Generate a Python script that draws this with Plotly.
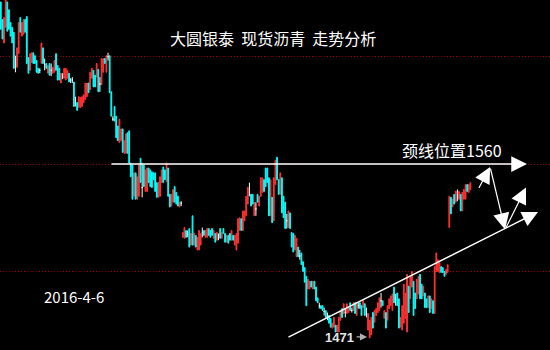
import plotly.graph_objects as go

# ---------------- data (price units) ----------------
# segment 1: early decline
open_ = [
    1643,1634,1622,1630,1643,1639,1632.5,1630,1627.5,1611,1609.5,1616.5,1635,1625.5,1626.5,1634,1635.5,1614.5,1608,1612,
    1617,1615.5,1613,1609,1608,1611.5,1619.5,1611,1611.5,1606.5,1611.5,1608,1606.5,1607,1616.5,1610.5,1609,1601.5,1605,1604,
    1603,1604,1606.5,1603,1603,1602,1592,1591.5,1589,1589,1589.5,1591.5,1593,1594.5,1601.5,1598,1604,1608,1605.5,1604.5,
    1608.5,1601,1600.5,1607,1614,1607,1615,1615.5,1597,
    # segment 2
    1583,1589.5,1584.5,1579.5,1571,1572,1578,1565.5,1565.5,1576,1577,1560.5,1559.5,1543.5,1555.5,1542,1543.5,1563,1548,1559.5,
    1546,1546,1558,1557,1556,1555.5,1555.5,1550.5,1543,1543.5,1550.5,1558.5,1557,1551,1558,1544.5,1538.5,1540.5,1548.5,1545.5,
    1543.5,1538,1540,
    # segment 3
    1522.5,1522,1526,1524,1527,1518.5,1533.5,1518.5,1523.5,1516,1516,1518.5,1525,1526,1522.5,1522.5,1527,1526,1527,1522,
    1524.5,1521,1523,1527,1522,1527,1524.5,1520,1523.5,1524.5,1521,1523.5,1518.5,1516,1519.5,1526,1532,1526,1531,1533.5,
    1539.5,1547,1544.5,1544.5,1533.5,1537,1544.5,1538.5,1543.5,1545.5,1552,1558,1558,1553,1533.5,1543,1531,1549.5,1563.5,1552,
    1544.5,1553,1543.5,1540.5,1531,1527.5,1535,1525,1524.5,1516,1512.5,1517.5,1513,1514.5,1510,1507,1502.5,1496,1496,1500,
    1496,1500,1497,1491.5,1487.5,1487.5,1487.5,1484.5,1485,1482,1482.5,1481,1476,1476.5,1477.5,1474,1474,1480,1486,1483.5,
    1484,1483.5,1484,1489,1485,1485,1489,1482.5,1487.5,1489,1487.5,1486.5,
    # segment 4
    1488.5,1484,1475,1471,1472.5,1484,1479,1482.5,1484,1485,1490,1490,1481,1484,1480,1486,1487.5,1485,1497,1490.5,
    1494,1491,1476.5,1475,1478.5,1481,1474,1497.5,1491,1497,1500,1494,1491,1493.5,1503.5,1498.5,1492.5,1494,1491,1486.5,
    1492.5,1486,1490,1483.5,1505,1505,1504.5,1507.5,1507,1505,1503.5,1504.5,
    # segment 5 (gap up)
    1527.5,1543,1538,1544.5,1540.5,1544,1542,1544.5,1536,1542,1542,1549.5,1545.5,1547,
]
high = [
    1643,1634,1635,1644,1643,1639,1632.5,1630,1627.5,1615.5,1619.5,1632.5,1635,1632.5,1634,1634,1635.5,1614.5,1616.5,1617,
    1617,1615.5,1613,1609,1609,1622,1619.5,1614,1611.5,1610.5,1611.5,1611.5,1609.5,1613,1616.5,1610.5,1609,1606.5,1606.5,1609,
    1609,1608,1606.5,1604,1604.5,1602,1594.5,1591.5,1594.5,1594,1594.5,1595.5,1601.5,1601.5,1601.5,1607,1609,1608,1605.5,1611.5,
    1608.5,1604.5,1614,1614,1614,1615.5,1617,1615.5,1597,
    1584.5,1589.5,1584.5,1579.5,1583,1578,1578,1572,1575.5,1576,1577,1560.5,1559.5,1555.5,1555.5,1553.5,1559.5,1563,1560.5,1559.5,
    1557,1558,1558,1557,1556,1555.5,1555.5,1550.5,1550.5,1553.5,1557,1558.5,1557,1560.5,1558,1544.5,1544.5,1547,1548.5,1545.5,
    1543.5,1540.5,1541,
    1525,1527.5,1526,1526,1527,1524.5,1533.5,1524.5,1523.5,1522.5,1526,1524.5,1527.5,1526,1526,1527,1527,1526,1527,1526,
    1524.5,1525,1524.5,1527,1525,1527,1524.5,1523.5,1523.5,1524.5,1526,1523.5,1523.5,1524.5,1532,1532.5,1532,1536,1536,1543.5,
    1548,1550.5,1544.5,1544.5,1540.5,1540.5,1544.5,1543.5,1553,1553,1552,1558,1558,1553,1552,1543,1553,1562,1563.5,1552,
    1555.5,1553,1543.5,1540.5,1534.5,1536,1535,1525,1524.5,1523.5,1522,1517.5,1516,1514.5,1510,1507,1502.5,1501,1500,1500,
    1500,1500,1497,1491.5,1489,1487.5,1487.5,1486.5,1485,1484,1482.5,1481,1478.5,1481.5,1477.5,1477.5,1481.5,1485,1486,1488.5,
    1486,1488.5,1486.5,1489,1486.5,1489,1489,1488.5,1489,1489,1487.5,1490,
    1488.5,1486.5,1483.5,1480,1481.5,1484,1485,1486,1489,1491.5,1494,1490,1485,1484,1487.5,1491,1492.5,1493.5,1497,1493.5,
    1494,1491,1481.5,1487.5,1498.5,1494,1503.5,1497.5,1502,1505,1500,1494,1501,1502.5,1503.5,1498.5,1497.5,1494,1491,1492.5,
    1492.5,1491,1490,1507.5,1514.5,1511,1509.5,1507.5,1507,1505,1506,1508.5,
    1543.5,1543,1542,1544.5,1546,1547,1546,1544.5,1545.5,1547,1549.5,1549.5,1549.5,1550.5,
]
low = [
    1629,1624,1622,1630,1628,1629,1625.5,1622,1609,1607,1609.5,1616.5,1627.5,1625.5,1626.5,1627.5,1611.5,1606.5,1608,1612,
    1611.5,1611.5,1607,1606.5,1606.5,1611.5,1611.5,1608,1609,1606.5,1605.5,1605,1606.5,1607,1608,1603,1603,1601.5,1603.5,1604,
    1603,1604,1602,1601.5,1601.5,1589.5,1589.5,1587.5,1589,1589,1589.5,1591.5,1593,1594.5,1596.5,1598,1604,1599.5,1599.5,1604.5,
    1597,1597,1600.5,1607,1611.5,1607,1613,1596.5,1584.5,
    1582,1582,1573.5,1572,1571,1572,1566,1565.5,1565.5,1565.5,1560.5,1553.5,1542,1543.5,1542,1542,1543.5,1550.5,1543,1548.5,
    1546,1546,1550.5,1548.5,1548,1552,1546,1543,1543,1543.5,1550.5,1550.5,1552,1551,1543.5,1538,1538.5,1540.5,1540.5,1539.5,
    1538.5,1538,1538.5,
    1522.5,1522,1522.5,1522.5,1517.5,1518.5,1518.5,1518.5,1517.5,1516,1516,1518.5,1522.5,1523.5,1522.5,1522.5,1523.5,1522.5,1523.5,1522,
    1520,1521,1521,1522,1522,1524.5,1520,1520,1519.5,1521,1521,1521,1518.5,1516,1519.5,1526,1526,1526,1531,1533.5,
    1539.5,1543.5,1538.5,1539.5,1533.5,1533.5,1540.5,1538.5,1543.5,1545.5,1546,1548.5,1550.5,1533.5,1533.5,1530,1531,1549.5,1552,1544.5,
    1544.5,1535,1532.5,1527,1527,1527.5,1527,1517.5,1515,1516,1512.5,1512.5,1511,1508.5,1505,1499.5,1487.5,1496,1496,1497,
    1496,1496,1490,1489,1486,1486,1485,1482.5,1481.5,1480,1478.5,1476.5,1476,1476.5,1474,1474,1474,1480,1481.5,1483.5,
    1481.5,1483.5,1484,1485,1484,1485,1483.5,1482.5,1486,1486,1482.5,1486.5,
    1482.5,1481.5,1475,1471,1472.5,1476,1479,1482.5,1484,1485,1486.5,1487.5,1481,1476,1480,1486,1487.5,1485,1489,1487.5,
    1487.5,1476,1476.5,1475,1478.5,1481,1474,1484,1491,1497,1482.5,1486,1491,1493.5,1491,1491,1492.5,1486.5,1486.5,1486.5,
    1484,1486,1483.5,1483.5,1505,1505,1504.5,1504.5,1504.5,1502.5,1503.5,1504.5,
    1527.5,1534.5,1538,1539.5,1540.5,1541,1542,1536,1536,1542,1542,1546,1545.5,1547,
]
close = [
    1629,1624,1635,1644,1628,1629,1625.5,1622,1609,1611,1619.5,1632.5,1627.5,1632.5,1634,1627.5,1611.5,1606.5,1616.5,1617,
    1611.5,1611.5,1607,1606.5,1608,1622,1611.5,1611,1609,1610.5,1605.5,1608,1609.5,1613,1608,1603,1603,1606.5,1605,1609,
    1609,1608,1602,1603,1603,1589.5,1592,1587.5,1594.5,1594,1594.5,1595.5,1601.5,1601.5,1596.5,1607,1609,1599.5,1599.5,1611.5,
    1597,1601,1614,1614,1611.5,1615.5,1615,1596.5,1584.5,
    1583,1582,1573.5,1572,1583,1578,1566,1572,1575.5,1565.5,1560.5,1553.5,1542,1555.5,1542,1553.5,1559.5,1550.5,1548,1548.5,
    1557,1558,1550.5,1548.5,1548,1552,1546,1543,1550.5,1553.5,1557,1550.5,1552,1560.5,1543.5,1538,1544.5,1547,1540.5,1539.5,
    1538.5,1540.5,1540,
    1525,1527.5,1522.5,1524,1517.5,1524.5,1518.5,1524.5,1517.5,1522.5,1526,1524.5,1525,1523.5,1526,1527,1523.5,1522.5,1523.5,1526,
    1520,1525,1523,1522,1525,1524.5,1520,1523.5,1519.5,1521,1526,1521,1523.5,1524.5,1532,1532.5,1526,1536,1536,1543.5,
    1548,1547,1538.5,1539.5,1540.5,1537,1540.5,1543.5,1553,1553,1546,1548.5,1550.5,1533.5,1552,1530,1553,1562,1552,1544.5,
    1555.5,1535,1532.5,1527,1531,1536,1527,1517.5,1515,1523.5,1522,1512.5,1513,1508.5,1505,1499.5,1487.5,1501,1500,1497,
    1500,1496,1490,1489,1487.5,1486,1485,1484.5,1481.5,1482,1478.5,1476.5,1478.5,1481.5,1474,1477.5,1481.5,1485,1481.5,1488.5,
    1484,1488.5,1486.5,1485,1485,1489,1483.5,1488.5,1487.5,1486,1482.5,1490,
    1482.5,1484,1483.5,1480,1481.5,1476,1485,1486,1489,1491.5,1490,1487.5,1485,1476,1487.5,1491,1492.5,1493.5,1489,1490.5,
    1487.5,1476,1481.5,1487.5,1498.5,1494,1503.5,1484,1502,1505,1482.5,1486,1501,1502.5,1491,1491,1497.5,1486.5,1486.5,1492.5,
    1484,1491,1483.5,1507.5,1514.5,1511,1509.5,1504.5,1504.5,1502.5,1506,1508.5,
    1543.5,1534.5,1542,1539.5,1546,1544,1546,1536,1545.5,1547,1549.5,1546,1549.5,1550.5,
]
assert len(open_) == len(high) == len(low) == len(close)
bars = list(range(len(close)))

TITLE = "大圆银泰  现货沥青  走势分析"
DATE_TEXT = "2016-4-6"
NECK_TEXT = "颈线位置1560"
LOW_TEXT = "1471"
NECK = 1560
LOW_PRICE = 1471.5
GRID_LEVELS = [1505, 1560, 1615]

# analyst drawings: (bar index, price)
NECK_LINE = [(67.2, NECK), (323.8, NECK)]
TREND_LINE = [(176.1, 1471), (330.6, 1535.5)]
PROJECTION = [(293.7, 1547), (301.1, 1558.5), (310.3, 1526.5), (323.2, 1548)]
LOW_ARROW = [(218.0, LOW_PRICE), (225.4, LOW_PRICE)]

UP, DOWN, DOJI = "#ff3232", "#00ffff", "#ffffff"

groups = {"up": [], "down": [], "doji": []}
for i in bars:
    if close[i] > open_[i]:
        groups["up"].append(i)
    elif close[i] < open_[i]:
        groups["down"].append(i)
    else:
        groups["doji"].append(i)

fig = go.Figure()
for key, col in (("up", UP), ("down", DOWN), ("doji", DOJI)):
    idx = groups[key]
    fig.add_trace(go.Candlestick(
        x=[bars[i] for i in idx],
        open=[open_[i] for i in idx], high=[high[i] for i in idx],
        low=[low[i] for i in idx], close=[close[i] for i in idx],
        increasing=dict(line=dict(color=col, width=1), fillcolor=col),
        decreasing=dict(line=dict(color=col, width=1), fillcolor=col),
        whiskerwidth=0, showlegend=False, hoverinfo="skip"))


def arrow(p0, p1, color="white", width=1.5, size=1.8, head=2):
    return dict(x=p1[0], y=p1[1], ax=p0[0], ay=p0[1], xref="x", yref="y",
                axref="x", ayref="y", text="", showarrow=True, arrowhead=head,
                arrowsize=size, arrowwidth=width, arrowcolor=color, standoff=0)


anns = [arrow(NECK_LINE[0], NECK_LINE[1], size=2.1),
        arrow(TREND_LINE[0], TREND_LINE[1], size=2.1)]
for a, b in zip(PROJECTION[:-1], PROJECTION[1:]):
    anns.append(arrow(a, b, width=1.2, size=2.7))
anns.append(arrow(LOW_ARROW[0], LOW_ARROW[1], color="#b0b0b0", width=1.3, size=1.1))

cjk = "Noto Sans CJK SC"
anns += [
    dict(text=TITLE, x=0.497, y=0.891, xref="paper", yref="paper", showarrow=False,
         font=dict(family=cjk, size=16, color="white"), xanchor="center", yanchor="middle"),
    dict(text=NECK_TEXT, x=0.822, y=0.571, xref="paper", yref="paper", showarrow=False,
         font=dict(family=cjk, size=16, color="white"), xanchor="center", yanchor="middle"),
    dict(text=DATE_TEXT, x=0.1345, y=0.154, xref="paper", yref="paper", showarrow=False,
         font=dict(family=cjk, size=15, color="white"), xanchor="center", yanchor="middle"),
    dict(text="<b>" + LOW_TEXT + "</b>", x=0.618, y=0.037, xref="paper", yref="paper", showarrow=False,
         font=dict(family="Liberation Sans", size=13, color="#e6e6e6"), xanchor="center", yanchor="middle"),
]

fig.update_layout(
    width=550, height=350, margin=dict(l=0, r=0, t=0, b=0),
    paper_bgcolor="black", plot_bgcolor="black", showlegend=False,
    xaxis=dict(range=[-0.49, 337.97], visible=False, rangeslider=dict(visible=False)),
    yaxis=dict(range=[1464.8, 1644], tickvals=GRID_LEVELS, showticklabels=False,
               showgrid=True, gridcolor="#9a0000", griddash="1px,2px", gridwidth=1,
               zeroline=False, showline=False, ticks=""),
    annotations=anns,
)
fig.write_html("out.html")
